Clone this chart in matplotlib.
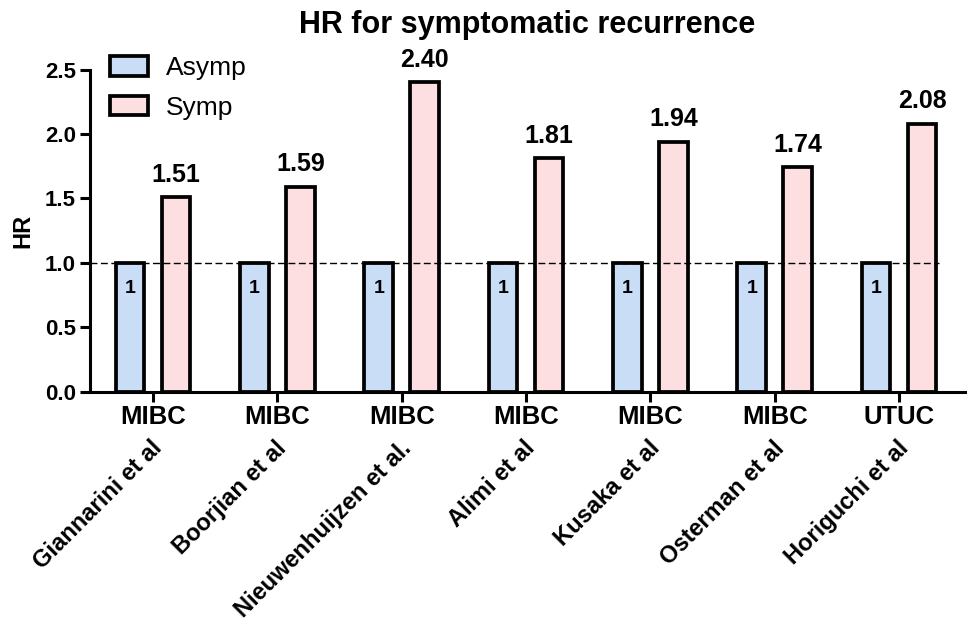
import numpy as np
import matplotlib.pyplot as plt

plt.rcParams['font.family'] = ['Liberation Sans', 'DejaVu Sans']

studies = ['Giannarini et al', 'Boorjian et al', 'Nieuwenhuijzen et al.', 'Alimi et al',
           'Kusaka et al', 'Osterman et al', 'Horiguchi et al']
cancer = ['MIBC', 'MIBC', 'MIBC', 'MIBC', 'MIBC', 'MIBC', 'UTUC']
asymp = [1, 1, 1, 1, 1, 1, 1]
symp = [1.51, 1.59, 2.40, 1.81, 1.94, 1.74, 2.08]

x = np.arange(len(studies))
w = 0.23
off = 0.185

fig = plt.figure(figsize=(9.68, 6.23), dpi=100)
ax = fig.add_axes([90 / 968, 1 - 391.5 / 623, 875 / 968, 322 / 623])

ax.bar(x - off, asymp, w, color='#c9ddf6', edgecolor='black', linewidth=2.7, label='Asymp', zorder=2)
ax.bar(x + off, symp, w, color='#fddfe1', edgecolor='black', linewidth=2.7, label='Symp', zorder=2)
ax.hlines(1.0, -0.51, x[-1] + off + w / 2 + 0.02, color='black', linestyle=(0, (5, 2.5)),
          linewidth=1.0, zorder=3)

for xi, v in zip(x, asymp):
    ax.text(xi - off, 0.8, f'{v}', ha='center', va='center', fontsize=14, fontweight='bold')
for xi, v in zip(x, symp):
    ax.text(xi + off, v + 0.08, f'{v:.2f}', ha='center', va='bottom', fontsize=18, fontweight='bold')

ax.set_xlim(-0.507, 6.53)
ax.set_ylim(0, 2.5)
ax.set_yticks([0, 0.5, 1.0, 1.5, 2.0, 2.5])
ax.set_yticklabels(['0.0', '0.5', '1.0', '1.5', '2.0', '2.5'], fontsize=16, fontweight='bold')
ax.set_xticks(x)
ax.set_xticklabels(cancer, fontsize=18.5, fontweight='bold')
ax.tick_params(axis='both', width=2.2, length=7, pad=3)
ax.tick_params(axis='x', pad=3)

for xi, name in zip(x, studies):
    ax.text(xi - 0.02, -0.35, name, rotation=45, rotation_mode='anchor', ha='right', va='top',
            fontsize=17, fontweight='bold', clip_on=False)

for s in ['top', 'right']:
    ax.spines[s].set_visible(False)
for s in ['left', 'bottom']:
    ax.spines[s].set_linewidth(2.2)

ax.set_ylabel('HR', fontsize=17, fontweight='bold', labelpad=8)
ax.set_title('HR for symptomatic recurrence', fontsize=22, fontweight='bold', pad=26)

leg = ax.legend(loc='upper left', bbox_to_anchor=(0.011, 1.075), borderaxespad=0, frameon=False,
                fontsize=19, handlelength=1.42, handleheight=0.77, handletextpad=0.7, labelspacing=0.6)

fig.savefig('out.png', dpi=100)
